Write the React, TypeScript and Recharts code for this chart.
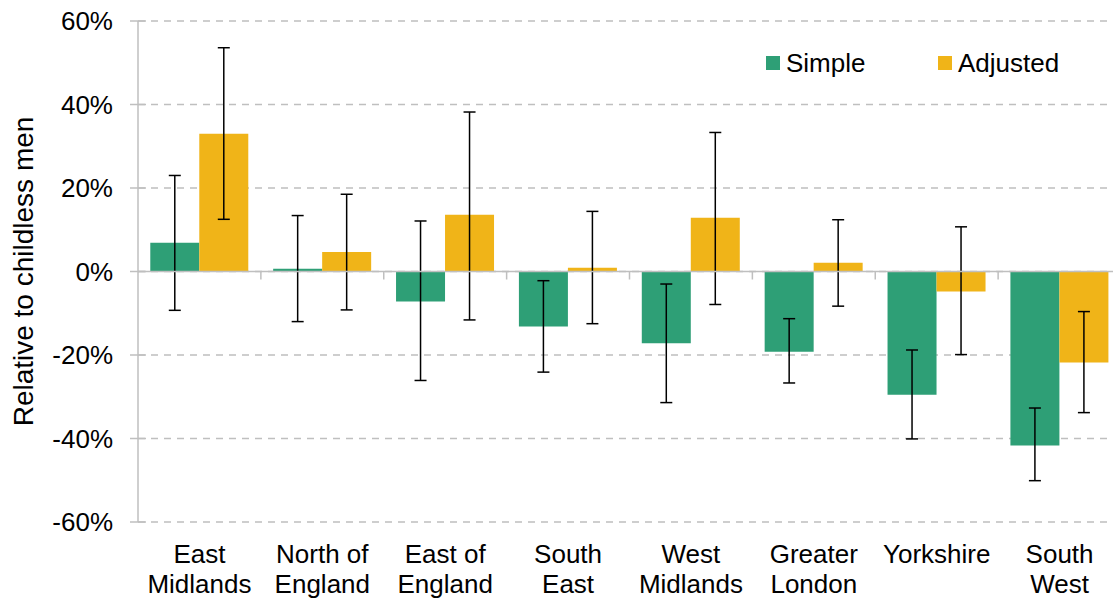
import React from 'react';
import { BarChart, Bar, XAxis, YAxis, CartesianGrid, ErrorBar, ReferenceLine, Legend } from 'recharts';

const regions = ['East Midlands', 'North of England', 'East of England', 'South East', 'West Midlands', 'Greater London', 'Yorkshire', 'South West'];
const simple = [6.9, 0.65, -7.2, -13.2, -17.2, -19.2, -29.5, -41.7];
const simpleLow = [-9.3, -12.0, -26.1, -24.1, -31.4, -26.7, -40.1, -50.1];
const simpleHigh = [23.0, 13.4, 12.1, -2.2, -3.0, -11.3, -18.8, -32.7];
const adjusted = [33.0, 4.7, 13.6, 0.9, 12.9, 2.1, -4.8, -21.8];
const adjustedLow = [12.5, -9.2, -11.6, -12.5, -7.9, -8.3, -19.9, -33.8];
const adjustedHigh = [53.6, 18.5, 38.2, 14.4, 33.3, 12.4, 10.7, -9.6];
const yTicks = [-60, -40, -20, 0, 20, 40, 60];
const Y_MIN = -60;
const Y_MAX = 60;

const GREEN = '#2e9f76';
const GOLD = '#f0b418';
const GRID = '#bfbfbf';
const FONT = "'Liberation Sans', Arial, sans-serif";
const W = 1121;
const H = 601;
const TOP = 21;
const LEFT_W = 138;
const XAXIS_H = 79;
const PLOT_H = H - TOP - XAXIS_H;
const ZERO_Y = TOP + (PLOT_H * (Y_MAX - 0)) / (Y_MAX - Y_MIN);

const data = regions.map((region, i) => ({
  region,
  simple: simple[i],
  simpleErr: [simple[i] - simpleLow[i], simpleHigh[i] - simple[i]],
  adjusted: adjusted[i],
  adjustedErr: [adjusted[i] - adjustedLow[i], adjustedHigh[i] - adjusted[i]],
}));

const series = [
  { key: 'simple', name: 'Simple', color: GREEN },
  { key: 'adjusted', name: 'Adjusted', color: GOLD },
];

function XTick(props: any) {
  const { x, y, payload, index } = props;
  const label = String(payload.value);
  const cut = label.lastIndexOf(' ');
  const lines = cut < 0 ? [label] : [label.slice(0, cut), label.slice(cut + 1)];
  const half = typeof payload.offset === 'number' && payload.offset > 0 ? payload.offset : (W - LEFT_W) / regions.length / 2;
  return (
    <g>
      {index > 0 && (
        <line x1={x - half} x2={x - half} y1={ZERO_Y} y2={ZERO_Y + 8} stroke={GRID} strokeWidth={1.5} />
      )}
      <text x={x} y={y} textAnchor="middle" fontFamily={FONT} fontSize={26} fill="#000">
        {lines.map((l, i) => (
          <tspan key={i} x={x} dy={i === 0 ? 41 : 30}>
            {l}
          </tspan>
        ))}
      </text>
    </g>
  );
}

function YTick(props: any) {
  const { x, y, payload } = props;
  return (
    <g>
      <line x1={x + 17} x2={x + 33} y1={y} y2={y} stroke={GRID} strokeWidth={1.5} />
      <text x={x} y={y} dy="0.36em" textAnchor="end" fontFamily={FONT} fontSize={26} fill="#000">
        {`${payload.value}%`}
      </text>
    </g>
  );
}

function YTitle() {
  const cx = 33;
  const cy = TOP + PLOT_H / 2;
  return (
    <text
      transform={`translate(${cx}, ${cy}) rotate(-90)`}
      textAnchor="middle"
      fontFamily={FONT}
      fontSize={28}
      fill="#000"
    >
      Relative to childless men
    </text>
  );
}

function LegendContent() {
  return (
    <div style={{ display: 'flex', fontFamily: FONT, fontSize: 26, lineHeight: '30px', color: '#000' }}>
      {series.map((s, i) => (
        <div key={s.key} style={{ display: 'flex', alignItems: 'center', width: i === 0 ? 172 : 'auto' }}>
          <span style={{ display: 'inline-block', width: 14, height: 14, background: s.color, marginRight: 6 }} />
          <span>{s.name}</span>
        </div>
      ))}
    </div>
  );
}

export default function App() {
  return (
    <div style={{ position: 'absolute', left: 0, top: 0, width: 1113, height: 601, overflow: 'hidden', background: '#fff' }}>
      <BarChart
        width={W}
        height={H}
        data={data}
        margin={{ top: TOP, right: 0, bottom: 0, left: 0 }}
        barCategoryGap="10%"
        barGap={0}
      >
        <CartesianGrid vertical={false} stroke={GRID} strokeWidth={1.5} strokeDasharray="7 6" />
        <XAxis
          dataKey="region"
          height={XAXIS_H}
          axisLine={false}
          tickLine={false}
          tickSize={0}
          tickMargin={0}
          interval={0}
          tick={<XTick />}
        />
        <YAxis
          width={LEFT_W}
          domain={[Y_MIN, Y_MAX]}
          ticks={yTicks}
          interval={0}
          allowDataOverflow
          tickSize={8}
          tickMargin={17}
          tickLine={false}
          axisLine={{ stroke: GRID, strokeWidth: 1.5 }}
          tick={<YTick />}
          label={<YTitle />}
        />
        <Legend
          layout="horizontal"
          verticalAlign="middle"
          align="center"
          wrapperStyle={{ position: 'absolute', left: 766, top: 48, width: 'auto', height: 'auto' }}
          content={<LegendContent />}
        />
        <Bar dataKey="simple" name="Simple" fill={GREEN} isAnimationActive={false}>
          <ErrorBar dataKey="simpleErr" direction="y" width={6} stroke="#000" strokeWidth={1.5} isAnimationActive={false} />
        </Bar>
        <Bar dataKey="adjusted" name="Adjusted" fill={GOLD} isAnimationActive={false}>
          <ErrorBar dataKey="adjustedErr" direction="y" width={6} stroke="#000" strokeWidth={1.5} isAnimationActive={false} />
        </Bar>
        <ReferenceLine y={0} stroke={GRID} strokeWidth={1.5} />
      </BarChart>
    </div>
  );
}
